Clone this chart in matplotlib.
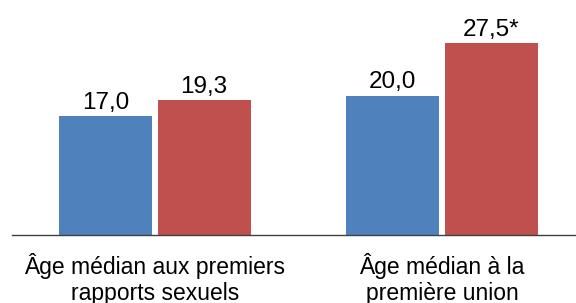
import matplotlib
matplotlib.use("Agg")
import matplotlib.pyplot as plt
import numpy as np

plt.rcParams['font.family'] = ['Liberation Sans', 'DejaVu Sans']

categories = ["Âge médian aux premiers\nrapports sexuels", "Âge médian à la\npremière union"]
series_a = [17.0, 20.0]
series_b = [19.3, 27.5]
labels_a = ["17,0", "20,0"]
labels_b = ["19,3", "27,5*"]

blue = "#4F81BD"
red = "#C0504D"

fig = plt.figure(figsize=(5.76, 3.03), dpi=100)
ax = fig.add_axes([12/576, 68/303, 1 - 12/576, 235/303])

x = np.arange(len(categories))
w = 0.324
off = 0.171
ba = ax.bar(x - off, series_a, w, color=blue)
bb = ax.bar(x + off, series_b, w, color=red)

for bars, labs in ((ba, labels_a), (bb, labels_b)):
    for r, t in zip(bars, labs):
        ax.text(r.get_x() + r.get_width()/2, r.get_height() + 0.3, t,
                ha='center', va='bottom', fontsize=17.5, color='black')

ax.set_xlim(-0.498, 1.467)
ax.set_ylim(0, 33.7)
ax.set_xticks(x)
ax.set_xticklabels(categories, fontsize=16.5, linespacing=1.17)
ax.tick_params(axis='x', length=0, pad=13)
ax.set_yticks([])
for s in ('top', 'right', 'left'):
    ax.spines[s].set_visible(False)
ax.spines['bottom'].set_color('#404040')
ax.spines['bottom'].set_linewidth(1.0)

fig.savefig("out.png", dpi=100)
